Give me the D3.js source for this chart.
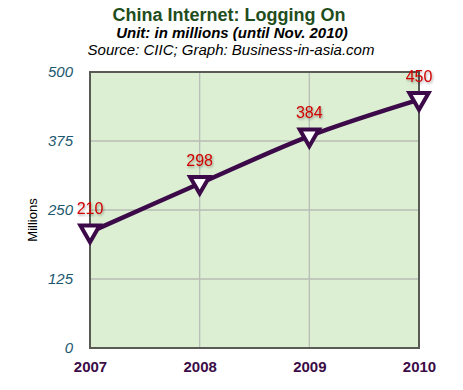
<!DOCTYPE html>
<html>
<head>
<meta charset="utf-8">
<script src="https://cdn.jsdelivr.net/npm/d3@7"></script>
<style>
  body { margin: 0; background: #fff; }
  svg { font-family: "Liberation Sans", Arial, Helvetica, sans-serif; }
</style>
</head>
<body>
<div class="chart"></div>
<script>
// chart data
const years = ["2007", "2008", "2009", "2010"]
const users = [210, 298, 384, 450]
const yTicks = [0, 125, 250, 375, 500]

const width = 463
const height = 390
const margin = { top: 72, right: 44, bottom: 42, left: 90 }
const innerW = width - margin.left - margin.right
const innerH = height - margin.top - margin.bottom

let svg = d3.select(".chart")
    .append("svg")
    .attr("width", width)
    .attr("height", height)

// drop shadow for the value labels
let defs = svg.append("defs")
let shadow = defs.append("filter").attr("id", "shadow")
    .attr("x", "-20%").attr("y", "-20%").attr("width", "150%").attr("height", "150%")
shadow.append("feDropShadow")
    .attr("dx", 1).attr("dy", 1.5).attr("stdDeviation", 1)
    .attr("flood-color", "#000").attr("flood-opacity", 0.35)

// titles
svg.append("text")
    .attr("x", 229).attr("y", 21)
    .attr("text-anchor", "middle")
    .attr("font-size", 18).attr("font-weight", "bold")
    .attr("fill", "#1f4d1c")
    .text("China Internet: Logging On")
svg.append("text")
    .attr("x", 232).attr("y", 38)
    .attr("text-anchor", "middle")
    .attr("font-size", 15).attr("font-weight", "bold").attr("font-style", "italic")
    .attr("fill", "#000")
    .text("Unit: in millions (until Nov. 2010)")
svg.append("text")
    .attr("x", 231).attr("y", 55)
    .attr("text-anchor", "middle")
    .attr("font-size", 15).attr("font-style", "italic")
    .attr("fill", "#000")
    .text("Source: CIIC; Graph: Business-in-asia.com")

let g = svg.append("g")
    .attr("transform", `translate(${margin.left},${margin.top})`)

const x = d3.scalePoint()
    .domain(years)
    .range([0, innerW])

const y = d3.scaleLinear()
    .domain([0, 500])
    .range([innerH, 0])

// plot background
g.append("rect")
    .attr("width", innerW).attr("height", innerH)
    .attr("fill", "#dcefd3")

// grid lines
g.selectAll(".hgrid")
    .data(yTicks.slice(1, -1))
    .enter()
    .append("line")
    .attr("x1", 0).attr("x2", innerW)
    .attr("y1", d => y(d)).attr("y2", d => y(d))
    .attr("stroke", "#b8bdb5").attr("stroke-width", 1.3)
g.selectAll(".vgrid")
    .data(years.slice(1, -1))
    .enter()
    .append("line")
    .attr("y1", 0).attr("y2", innerH)
    .attr("x1", d => x(d)).attr("x2", d => x(d))
    .attr("stroke", "#b8bdb5").attr("stroke-width", 1.3)

// frame
g.append("rect")
    .attr("width", innerW).attr("height", innerH)
    .attr("fill", "none")
    .attr("stroke", "#5a5a55").attr("stroke-width", 2)

// y axis labels
let yAxis = g.append("g")
    .call(d3.axisLeft(y).tickValues(yTicks).tickSize(0).tickPadding(17))
yAxis.select(".domain").remove()
yAxis.selectAll("text")
    .attr("font-size", 15).attr("font-style", "italic")
    .attr("font-family", "'Liberation Sans', Arial, sans-serif")
    .attr("fill", "#1d5870")

// x axis labels
let xAxis = g.append("g")
    .attr("transform", `translate(0,${innerH})`)
    .call(d3.axisBottom(x).tickSize(0).tickPadding(13))
xAxis.select(".domain").remove()
xAxis.selectAll("text")
    .attr("font-size", 15).attr("font-weight", "bold")
    .attr("font-family", "'Liberation Sans', Arial, sans-serif")
    .attr("fill", "#3b0c47")

// y title
svg.append("text")
    .attr("transform", "translate(37,220) rotate(-90)")
    .attr("text-anchor", "middle")
    .attr("font-size", 13)
    .attr("fill", "#000")
    .text("Millions")

const data = years.map((yr, i) => ({ year: yr, value: users[i] }))

// line
const line = d3.line()
    .x(d => x(d.year))
    .y(d => y(d.value))
    .curve(d3.curveCatmullRom)

g.append("path")
    .datum(data)
    .attr("d", line)
    .attr("fill", "none")
    .attr("stroke", "#3c0a48")
    .attr("stroke-width", 4.5)

// markers (down triangles)
const tri = d3.symbol().type(d3.symbolTriangle).size(160)
g.selectAll(".marker")
    .data(data)
    .enter()
    .append("path")
    .attr("d", tri)
    .attr("transform", d => `translate(${x(d.year)},${y(d.value) - 1}) rotate(180)`)
    .attr("fill", "#fff")
    .attr("stroke", "#3c0a48")
    .attr("stroke-width", 4)

// value labels
g.selectAll(".val")
    .data(data)
    .enter()
    .append("text")
    .attr("x", d => x(d.year))
    .attr("y", d => y(d.value) - 18)
    .attr("text-anchor", "middle")
    .attr("font-size", 16)
    .attr("fill", "#d00000")
    .attr("filter", "url(#shadow)")
    .text(d => d.value)
</script>
</body>
</html>
